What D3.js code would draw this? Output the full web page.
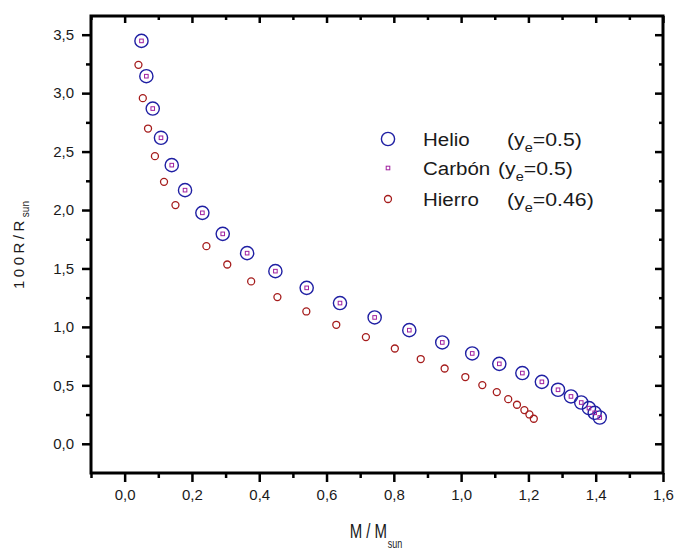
<!DOCTYPE html>
<html>
<head>
<meta charset="utf-8">
<script src="https://cdn.jsdelivr.net/npm/d3@7"></script>
<style>
  body { margin: 0; background: #fff; }
  text { font-family: "Liberation Sans", Arial, sans-serif; fill: #1a1a1a; }
</style>
</head>
<body>
<script>
// masses (M/Msun) and radii (100 R/Rsun)
var helioM = [0.050, 0.0645, 0.0835, 0.108, 0.140, 0.1795, 0.231, 0.2915, 0.364, 0.448, 0.541, 0.640,
              0.743, 0.846, 0.944, 1.033, 1.1135, 1.182, 1.240, 1.288, 1.3265, 1.357, 1.380, 1.397, 1.412];
var helioR = [3.447, 3.145, 2.868, 2.618, 2.384, 2.170, 1.976, 1.796, 1.631, 1.477, 1.334, 1.204,
              1.081, 0.972, 0.867, 0.773, 0.684, 0.605, 0.530, 0.462, 0.405, 0.353, 0.305, 0.265, 0.225];
var carbonM = [0.050, 0.0645, 0.0835, 0.108, 0.140, 0.1795, 0.231, 0.2915, 0.364, 0.448, 0.541, 0.640,
               0.743, 0.846, 0.944, 1.033, 1.1135, 1.182, 1.240, 1.288, 1.3265, 1.357, 1.380, 1.397, 1.412];
var carbonR = [3.447, 3.145, 2.868, 2.618, 2.384, 2.170, 1.976, 1.796, 1.631, 1.477, 1.334, 1.204,
               1.081, 0.972, 0.867, 0.773, 0.684, 0.605, 0.530, 0.462, 0.405, 0.353, 0.305, 0.265, 0.225];
var hierroM = [0.041, 0.054, 0.0695, 0.090, 0.117, 0.151, 0.243, 0.305, 0.376, 0.454, 0.540, 0.629,
               0.717, 0.803, 0.880, 0.951, 1.0125, 1.063, 1.106, 1.140, 1.166, 1.188, 1.203, 1.216];
var hierroR = [3.242, 2.957, 2.697, 2.461, 2.241, 2.042, 1.691, 1.534, 1.389, 1.255, 1.132, 1.018,
               0.913, 0.815, 0.725, 0.644, 0.571, 0.502, 0.442, 0.382, 0.334, 0.288, 0.251, 0.214];

var xMajor = [0, 0.2, 0.4, 0.6, 0.8, 1.0, 1.2, 1.4, 1.6];
var xMinor = [-0.1, 0.1, 0.3, 0.5, 0.7, 0.9, 1.1, 1.3, 1.5];
var yMajor = [0, 0.5, 1.0, 1.5, 2.0, 2.5, 3.0, 3.5];
var yMinor = [0.25, 0.75, 1.25, 1.75, 2.25, 2.75, 3.25];

var legendNames = ["Helio", "Carbón", "Hierro"];
var legendYe = ["0.5", "0.5", "0.46"];

var W = 674, H = 554;
var pL = 91, pR = 663, pT = 16, pB = 473;

var svg = d3.select("body").append("svg")
    .attr("width", W)
    .attr("height", H);
svg.append("rect").attr("width", W).attr("height", H).attr("fill", "#fff");

var x = d3.scaleLinear().domain([-0.1, 1.6]).range([pL, pR]);
var y = d3.scaleLinear().domain([-0.25, 3.66]).range([pB, pT]);

var comma = function(d) { return d3.format(".1f")(d).replace(".", ","); };

// bottom axis: labels + outward ticks
svg.append("g").attr("class", "ax")
    .attr("transform", "translate(0," + pB + ")")
    .call(d3.axisBottom(x).tickValues(xMajor).tickSize(9).tickPadding(7).tickFormat(comma));
svg.append("g").attr("class", "ax minor")
    .attr("transform", "translate(0," + pB + ")")
    .call(d3.axisBottom(x).tickValues(xMinor).tickSize(5).tickFormat(""));
// top axis: inward ticks
svg.append("g").attr("class", "ax")
    .attr("transform", "translate(0," + pT + ")")
    .call(d3.axisTop(x).tickValues(xMajor).tickSize(-7).tickFormat(""));
svg.append("g").attr("class", "ax minor")
    .attr("transform", "translate(0," + pT + ")")
    .call(d3.axisTop(x).tickValues(xMinor).tickSize(-4).tickFormat(""));
// left axis
svg.append("g").attr("class", "ax")
    .attr("transform", "translate(" + pL + ",0)")
    .call(d3.axisLeft(y).tickValues(yMajor).tickSize(9).tickPadding(8).tickFormat(comma));
svg.append("g").attr("class", "ax minor")
    .attr("transform", "translate(" + pL + ",0)")
    .call(d3.axisLeft(y).tickValues(yMinor).tickSize(5).tickFormat(""));
// right axis: inward ticks
svg.append("g").attr("class", "ax")
    .attr("transform", "translate(" + pR + ",0)")
    .call(d3.axisRight(y).tickValues(yMajor).tickSize(-8).tickFormat(""));
svg.append("g").attr("class", "ax minor")
    .attr("transform", "translate(" + pR + ",0)")
    .call(d3.axisRight(y).tickValues(yMinor).tickSize(-4).tickFormat(""));

svg.selectAll(".ax .domain").remove();
svg.selectAll(".ax line").attr("stroke", "#000").attr("stroke-width", 2.5);
svg.selectAll(".ax").attr("font-size", 15).attr("font-family", "'Liberation Sans', Arial, sans-serif");
svg.selectAll(".ax text").attr("fill", "#1a1a1a");

// frame
svg.append("rect")
    .attr("x", pL).attr("y", pT)
    .attr("width", pR - pL).attr("height", pB - pT)
    .attr("fill", "none").attr("stroke", "#000").attr("stroke-width", 3);

// data
var helio = helioM.map(function(m, i) { return [m, helioR[i]]; });
var carbon = carbonM.map(function(m, i) { return [m, carbonR[i]]; });
var hierro = hierroM.map(function(m, i) { return [m, hierroR[i]]; });

svg.append("g").selectAll("circle").data(hierro).enter().append("circle")
    .attr("cx", function(d) { return x(d[0]); })
    .attr("cy", function(d) { return y(d[1]); })
    .attr("r", 3.5)
    .attr("fill", "none").attr("stroke", "#a51c1c").attr("stroke-width", 1.3);

svg.append("g").selectAll("circle").data(helio).enter().append("circle")
    .attr("cx", function(d) { return x(d[0]); })
    .attr("cy", function(d) { return y(d[1]); })
    .attr("r", 6.6)
    .attr("fill", "none").attr("stroke", "#1f1fa3").attr("stroke-width", 1.4);

svg.append("g").selectAll("rect").data(carbon).enter().append("rect")
    .attr("x", function(d) { return x(d[0]) - 1.8; })
    .attr("y", function(d) { return y(d[1]) - 1.8; })
    .attr("width", 3.6).attr("height", 3.6)
    .attr("fill", "none").attr("stroke", "#a0209f").attr("stroke-width", 1);

// legend
var lg = svg.append("g");
var rowY = [139, 168, 199];
var parenX = [507, 498, 507];
lg.append("circle").attr("cx", 388).attr("cy", rowY[0]).attr("r", 6.6)
    .attr("fill", "none").attr("stroke", "#1f1fa3").attr("stroke-width", 1.4);
lg.append("rect").attr("x", 386.2).attr("y", rowY[1] - 1.8).attr("width", 3.6).attr("height", 3.6)
    .attr("fill", "none").attr("stroke", "#a0209f").attr("stroke-width", 1);
lg.append("circle").attr("cx", 388).attr("cy", rowY[2]).attr("r", 3.5)
    .attr("fill", "none").attr("stroke", "#a51c1c").attr("stroke-width", 1.3);
legendNames.forEach(function(n, i) {
  lg.append("text")
      .attr("transform", "translate(423," + (rowY[i] + 7) + ") scale(1.08,1)")
      .style("font-size", "19px").text(n);
  var t = lg.append("text")
      .attr("transform", "translate(" + parenX[i] + "," + (rowY[i] + 7) + ") scale(1.12,1)")
      .style("font-size", "19px");
  t.append("tspan").text("(y");
  t.append("tspan").attr("dy", 6).style("font-size", "13px").text("e");
  t.append("tspan").attr("dy", -6).text("=" + legendYe[i] + ")");
});

// axis titles
var xt = svg.append("text")
    .attr("transform", "translate(376,538) scale(0.75,1)")
    .attr("text-anchor", "middle")
    .style("font-size", "20px");
xt.append("tspan").text("M / M");
xt.append("tspan").attr("dy", 10).attr("dx", 1).style("font-size", "12px").text("sun");

var yt = svg.append("text")
    .attr("transform", "translate(24,289) rotate(-90)")
    .attr("text-anchor", "start")
    .style("font-size", "15px")
    .style("letter-spacing", "3.5px");
yt.append("tspan").text("100R/R");
yt.append("tspan").attr("dy", 5).style("font-size", "10px").style("letter-spacing", "0px").text("sun");
</script>
</body>
</html>
